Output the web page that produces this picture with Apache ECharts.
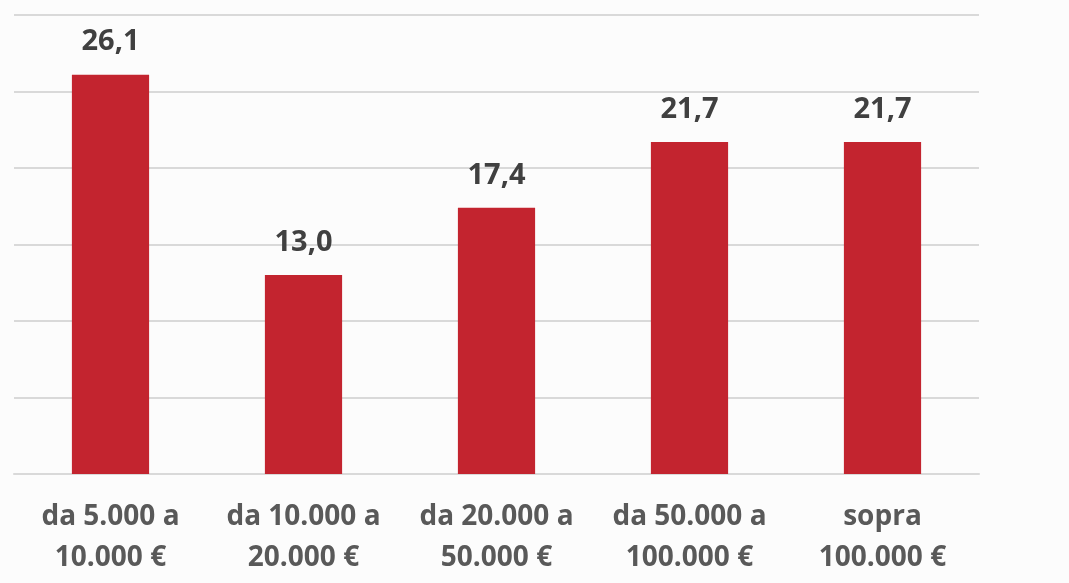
<!DOCTYPE html>
<html><head><meta charset="utf-8">
<script src="https://cdn.jsdelivr.net/npm/echarts@6/dist/echarts.min.js"></script>
<style>html,body{margin:0;padding:0;background:#fcfcfc}#c{width:1069px;height:583px}</style>
</head><body><div id="c"></div>
<script>
const categories = ['da 5.000 a\n10.000 €', 'da 10.000 a\n20.000 €', 'da 20.000 a\n50.000 €', 'da 50.000 a\n100.000 €', 'sopra\n100.000 €'];
const values = [26.1, 13.0, 17.4, 21.7, 21.7];
const chart = echarts.init(document.getElementById('c'));
chart.setOption({
  backgroundColor: '#fcfcfc',
  animation: false,
  grid: {left: 14, right: 90, top: 15, bottom: 109, containLabel: false},
  xAxis: {
    type: 'category', data: categories,
    axisLine: {show: true, lineStyle: {color: '#d9d9d9', width: 2}},
    axisTick: {show: false},
    axisLabel: {interval: 0, color: '#595959', fontFamily: 'Open Sans', fontWeight: 'bold', fontSize: 28, lineHeight: 41, margin: 23}
  },
  yAxis: {
    type: 'value', min: 0, max: 30, interval: 5,
    axisLabel: {show: false}, axisLine: {show: false}, axisTick: {show: false},
    splitLine: {lineStyle: {color: '#d9d9d9', width: 2}}
  },
  series: [{
    type: 'bar', data: values, barWidth: '40%',
    itemStyle: {color: '#c3242f'},
    label: {show: true, position: 'top', distance: 18, color: '#404040', fontFamily: 'Open Sans', fontWeight: 'bold', fontSize: 29,
      formatter: p => p.value.toFixed(1).replace('.', ',')}
  }]
});
</script></body></html>
